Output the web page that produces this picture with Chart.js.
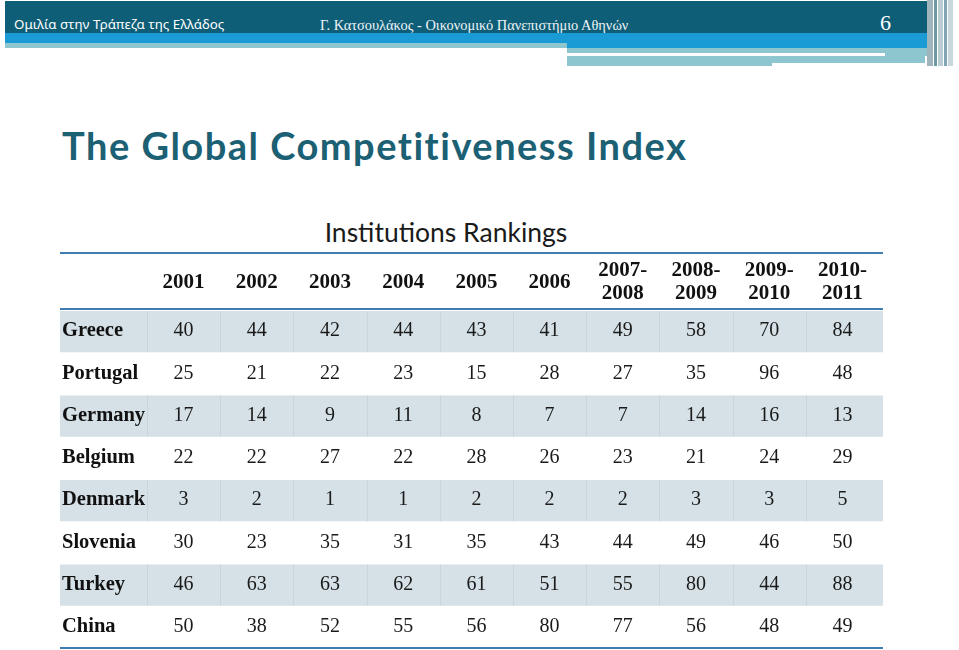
<!DOCTYPE html>
<html>
<head>
<meta charset="utf-8">
<script src="https://cdn.jsdelivr.net/npm/chart.js@4.4.1/dist/chart.umd.min.js"></script>
<style>
  html, body { margin:0; padding:0; background:#fff; width:959px; height:650px; overflow:hidden; }
  #wrap { position:relative; width:959px; height:650px; }
  .abs { position:absolute; }
  canvas { position:absolute; left:0; top:0; }
  .t { white-space:nowrap; line-height:1; }
</style>
</head>
<body>
<div id="wrap">
  <!-- slide header bands -->
  <div class="abs" style="left:5px;top:1px;width:922px;height:32px;background:#0f5e78;"></div>
  <div class="abs" style="left:5px;top:33px;width:922px;height:10px;background:#1b9bd6;"></div>
  <div class="abs" style="left:567px;top:43px;width:360px;height:5px;background:#1b9bd6;"></div>
  <div class="abs" style="left:5px;top:43px;width:562px;height:5px;background:#8ec6cf;"></div>
  <div class="abs" style="left:567px;top:48px;width:360px;height:5px;background:#8ec6cf;"></div>
  <div class="abs" style="left:567px;top:56px;width:358px;height:7px;background:#8ec6cf;"></div>
  <div class="abs" style="left:567px;top:63px;width:205px;height:3px;background:#8ec6cf;"></div>
  <div class="abs" style="left:885px;top:53px;width:42px;height:3px;background:#8ec6cf;"></div>
  <div class="abs" style="left:927px;top:0px;width:6px;height:66px;background:#9fb4bb;"></div>
  <div class="abs" style="left:934px;top:0px;width:3px;height:66px;background:#6f98a6;"></div>
  <div class="abs" style="left:938px;top:0px;width:5px;height:66px;background:#b9cdd2;"></div>
  <div class="abs" style="left:944px;top:0px;width:3px;height:66px;background:#7fa6b2;"></div>
  <div class="abs" style="left:948px;top:0px;width:5px;height:66px;background:#c8d8dc;"></div>
  <div class="abs t" style="left:14px;top:18px;font-family:'Noto Sans';font-size:13.3px;color:#fff;">Ομιλία στην Τράπεζα της Ελλάδος</div>
  <div class="abs t" style="left:320px;top:18px;font-family:'Liberation Serif';font-size:14.4px;color:#eef3f5;">Γ. Κατσουλάκος - Οικονομικό Πανεπιστήμιο Αθηνών</div>
  <div class="abs t" style="left:880px;top:12px;font-family:'Liberation Serif';font-size:22px;color:#fff;">6</div>
  <div class="abs t" style="left:62px;top:126px;font-family:Lato;font-weight:bold;font-size:38px;letter-spacing:1.5px;color:#1c6074;">The Global Competitiveness Index</div>
  <div class="abs t" style="left:0px;top:219px;width:892px;text-align:center;font-family:Lato;font-size:26.5px;color:#1a1a1a;">Institutions Rankings</div>
  <canvas id="c" width="959" height="650"></canvas>
</div>
<script>
// ---- data ----
const columns = ['2001','2002','2003','2004','2005','2006','2007-2008','2008-2009','2009-2010','2010-2011'];
const countries = ['Greece','Portugal','Germany','Belgium','Denmark','Slovenia','Turkey','China'];
const greece   = [40,44,42,44,43,41,49,58,70,84];
const portugal = [25,21,22,23,15,28,27,35,96,48];
const germany  = [17,14,9,11,8,7,7,14,16,13];
const belgium  = [22,22,27,22,28,26,23,21,24,29];
const denmark  = [3,2,1,1,2,2,2,3,3,5];
const slovenia = [30,23,35,31,35,43,44,49,46,50];
const turkey   = [46,63,63,62,61,51,55,80,44,88];
const china    = [50,38,52,55,56,80,77,56,48,49];
const shadedRows = ['Greece','Germany','Denmark','Turkey'];
const series = [greece, portugal, germany, belgium, denmark, slovenia, turkey, china];

const tablePlugin = {
  id: 'tableDeco',
  beforeDraw(chart) {
    const { ctx, chartArea, scales: { x, y } } = chart;
    const left = y.left - 2, right = chartArea.right + 4;
    const step = y.getPixelForValue(1) - y.getPixelForValue(0);
    const colW = x.getPixelForValue(1) - x.getPixelForValue(0);
    ctx.save();
    shadedRows.forEach(r => {
      const cy = y.getPixelForValue(countries.indexOf(r));
      const top = cy - step / 2 + 1, h = step - 1;
      ctx.fillStyle = '#d5e1e6';
      ctx.fillRect(left, top, right - left, h);
      ctx.fillStyle = '#c8d6dc';
      for (let i = 0; i < columns.length; i++) {
        const bx = Math.round(x.getPixelForValue(i) - colW / 2);
        ctx.fillRect(bx, top, 1, h);
      }
    });
    ctx.restore();
  },
  afterDatasetsDraw(chart) {
    const { ctx, chartArea, scales: { x, y } } = chart;
    ctx.save();
    ctx.font = '20px "Liberation Serif"';
    ctx.fillStyle = '#1a1a1a';
    ctx.textAlign = 'center';
    ctx.textBaseline = 'middle';
    chart.data.datasets.forEach((ds, di) => {
      const meta = chart.getDatasetMeta(di);
      meta.data.forEach((pt, i) => ctx.fillText(String(ds.data[i].v), pt.x, pt.y));
    });
    const left = y.left - 2, right = chartArea.right + 4;
    ctx.strokeStyle = '#3f7db0';
    ctx.lineWidth = 2;
    [x.top + 1, chartArea.top - 1, chartArea.bottom].forEach(ly => {
      ctx.beginPath(); ctx.moveTo(left, ly); ctx.lineTo(right, ly); ctx.stroke();
    });
    ctx.restore();
  }
};

new Chart(document.getElementById('c'), {
  type: 'scatter',
  data: {
    datasets: countries.map((c, k) => ({
      label: c,
      data: columns.map((col, i) => ({ x: col, y: c, v: series[k][i] })),
      pointRadius: 0,
      pointHoverRadius: 0
    }))
  },
  options: {
    responsive: false,
    animation: false,
    events: [],
    layout: { padding: { top: 252, left: 62, right: 80, bottom: 2 } },
    plugins: { legend: { display: false }, tooltip: { enabled: false }, title: { display: false } },
    scales: {
      x: {
        type: 'category', labels: columns, position: 'top', offset: true,
        grid: { display: false }, border: { display: false },
        ticks: {
          font: { family: 'Liberation Serif', size: 21, weight: 'bold', lineHeight: 1.12 },
          color: '#111', maxRotation: 0, minRotation: 0, autoSkip: false, crossAlign: 'center', padding: 8,
          callback(v, i) { const s = columns[i]; return s.includes('-') ? [s.split('-')[0] + '-', s.split('-')[1]] : s; }
        },
        afterFit(s) { s.height = 58; s.paddingLeft = 0; s.paddingRight = 0; }
      },
      y: {
        type: 'category', labels: countries, offset: true,
        grid: { display: false }, border: { display: false },
        ticks: { font: { family: 'Liberation Serif', size: 20.5, weight: 'bold' }, color: '#111', crossAlign: 'far', padding: 0 },
        afterFit(s) { s.width = 85; s.paddingTop = 0; s.paddingBottom = 0; }
      }
    }
  },
  plugins: [tablePlugin]
});
</script>
</body>
</html>
